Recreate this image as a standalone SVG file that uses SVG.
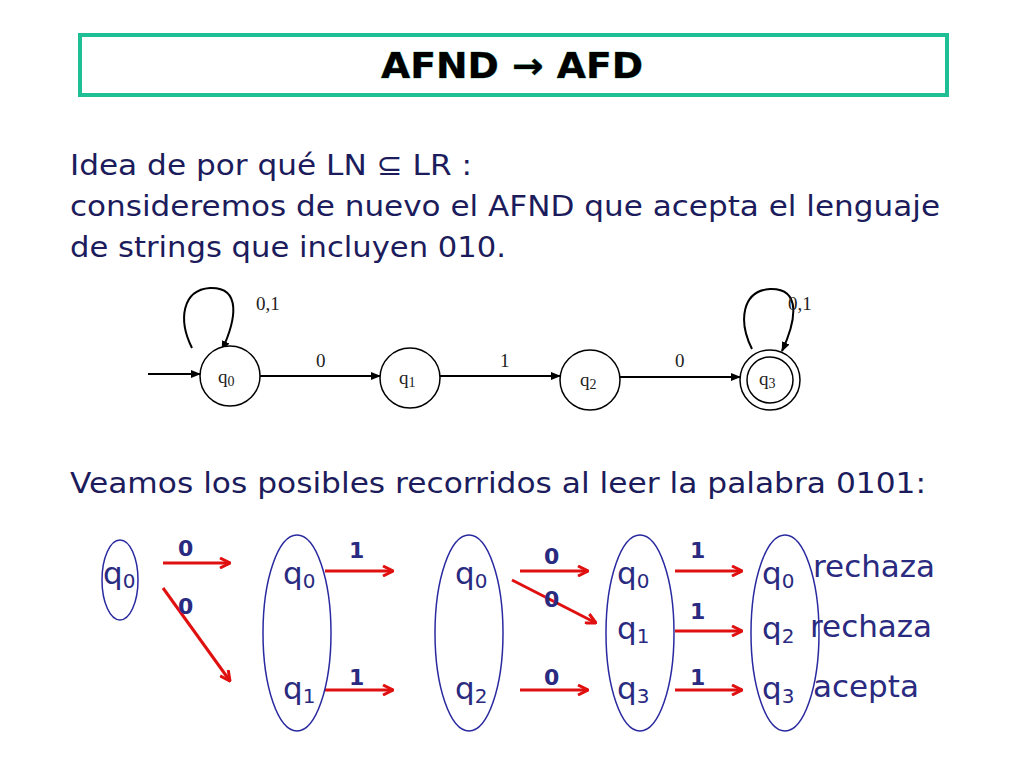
<svg xmlns="http://www.w3.org/2000/svg" width="1024" height="768" viewBox="0 0 1024 768">
<style>
.body{font-family:"DejaVu Sans","Liberation Sans",sans-serif;font-size:29px;fill:#1c1c5c}
.st{font-family:"Liberation Serif",serif;font-size:19px;fill:#222}
.circ{fill:#fff;stroke:#000;stroke-width:1.5}
.edge{fill:none;stroke:#000;stroke-width:2;marker-end:url(#ba)}
.q{font-family:"DejaVu Sans","Liberation Sans",sans-serif;font-size:31px;fill:#2a2a80}
.sub{font-size:20px}
.lab{font-family:"DejaVu Sans","Liberation Sans",sans-serif;font-size:22px;font-weight:bold;fill:#2a2a80}
.ell{fill:none;stroke:#2a2aa0;stroke-width:1.5}
.red{stroke:#e01010;stroke-width:3;fill:none;marker-end:url(#ra)}
</style>
<defs>
<marker id="ba" markerWidth="10" markerHeight="8" refX="9" refY="4" orient="auto" markerUnits="userSpaceOnUse"><path d="M0,0 L10,4 L0,8 z" fill="#000"/></marker>
<marker id="ra" markerWidth="12" markerHeight="12" refX="11" refY="6" orient="auto" markerUnits="userSpaceOnUse"><path d="M1,1 L11,6 L1,11" fill="none" stroke="#e01010" stroke-width="3"/></marker>
</defs>
<g id="title">
<rect x="80" y="35" width="867" height="60" fill="#fff" stroke="#1fbf96" stroke-width="4"/>
<text x="512" y="78" text-anchor="middle" font-family="DejaVu Sans,sans-serif" font-size="36" font-weight="bold" fill="#000" stroke="#3aa88a" stroke-width="0.6" textLength="262" lengthAdjust="spacingAndGlyphs" style="paint-order:stroke">AFND → AFD</text>
</g>
<g id="intro">
<text class="body" x="70" y="175" textLength="402" lengthAdjust="spacingAndGlyphs">Idea de por qué LN ⊆ LR :</text>
<text class="body" x="70" y="216" textLength="870" lengthAdjust="spacingAndGlyphs">consideremos de nuevo el AFND que acepta el lenguaje</text>
<text class="body" x="70" y="257" textLength="436" lengthAdjust="spacingAndGlyphs">de strings que incluyen 010.</text>
<text class="body" x="70" y="493" textLength="856" lengthAdjust="spacingAndGlyphs">Veamos los posibles recorridos al leer la palabra 0101:</text>
</g>
<g id="connectors">
<path class="edge" d="M148,374 L200,374"/>
<path class="edge" d="M260,376 L380,376"/>
<path class="edge" d="M440,376 L560,376"/>
<path class="edge" d="M620,377 L740,377"/>
<path class="edge" d="M192,348 C178,320 182,290 210,288 C242,287 236,320 222,350"/>
<path class="edge" d="M752,349 C738,321 742,291 770,289 C802,288 796,321 782,351"/>
<path class="red" d="M163,563 L230,563"/>
<path class="red" d="M163,588 L230,681"/>
<path class="red" d="M325,571 L393,571"/>
<path class="red" d="M325,690 L393,690"/>
<path class="red" d="M520,571 L588,571"/>
<path class="red" d="M512,580 L596,623"/>
<path class="red" d="M520,690 L588,690"/>
<path class="red" d="M675,571 L742,571"/>
<path class="red" d="M675,631 L742,631"/>
<path class="red" d="M675,690 L742,690"/>
</g>
<g id="q0"><circle class="circ" cx="230" cy="376" r="30"/><text class="st" x="218" y="383">q<tspan font-size="14" dy="3">0</tspan></text></g>
<g id="q1"><circle class="circ" cx="410" cy="378" r="30"/><text class="st" x="399" y="384">q<tspan font-size="14" dy="3">1</tspan></text></g>
<g id="q2"><circle class="circ" cx="590" cy="380" r="30"/><text class="st" x="580" y="386">q<tspan font-size="14" dy="3">2</tspan></text></g>
<g id="q3"><circle class="circ" cx="770" cy="380" r="30"/><circle class="circ" cx="770" cy="380" r="23"/><text class="st" x="759" y="385">q<tspan font-size="14" dy="3">3</tspan></text></g>
<g id="auto-labels">
<text class="st" x="316" y="367">0</text><text class="st" x="500" y="367">1</text><text class="st" x="675" y="367">0</text>
<text class="st" x="256" y="310">0,1</text><text class="st" x="788" y="310">0,1</text>
</g>
<g id="runs">
<ellipse class="ell" cx="120" cy="580" rx="18" ry="40"/>
<ellipse class="ell" cx="297" cy="633" rx="34" ry="98"/>
<ellipse class="ell" cx="469" cy="633" rx="34" ry="98"/>
<ellipse class="ell" cx="640" cy="633" rx="34" ry="98"/>
<ellipse class="ell" cx="785" cy="633" rx="34" ry="98"/>
<text class="q" x="103" y="584">q<tspan class="sub" dy="4">0</tspan></text>
<text class="q" x="283" y="584">q<tspan class="sub" dy="4">0</tspan></text>
<text class="q" x="283" y="699">q<tspan class="sub" dy="4">1</tspan></text>
<text class="q" x="455" y="584">q<tspan class="sub" dy="4">0</tspan></text>
<text class="q" x="455" y="699">q<tspan class="sub" dy="4">2</tspan></text>
<text class="q" x="617" y="584">q<tspan class="sub" dy="4">0</tspan></text>
<text class="q" x="617" y="639">q<tspan class="sub" dy="4">1</tspan></text>
<text class="q" x="617" y="699">q<tspan class="sub" dy="4">3</tspan></text>
<text class="q" x="762" y="584">q<tspan class="sub" dy="4">0</tspan></text>
<text class="q" x="762" y="639">q<tspan class="sub" dy="4">2</tspan></text>
<text class="q" x="762" y="699">q<tspan class="sub" dy="4">3</tspan></text>
<text class="q" x="813" y="577">rechaza</text>
<text class="q" x="810" y="637">rechaza</text>
<text class="q" x="813" y="697">acepta</text>
<text class="lab" x="178" y="556">0</text><text class="lab" x="178" y="614">0</text>
<text class="lab" x="349" y="558">1</text><text class="lab" x="349" y="685">1</text>
<text class="lab" x="544" y="564">0</text><text class="lab" x="544" y="607">0</text><text class="lab" x="544" y="685">0</text>
<text class="lab" x="690" y="558">1</text><text class="lab" x="690" y="619">1</text><text class="lab" x="690" y="685">1</text>
</g>
</svg>
